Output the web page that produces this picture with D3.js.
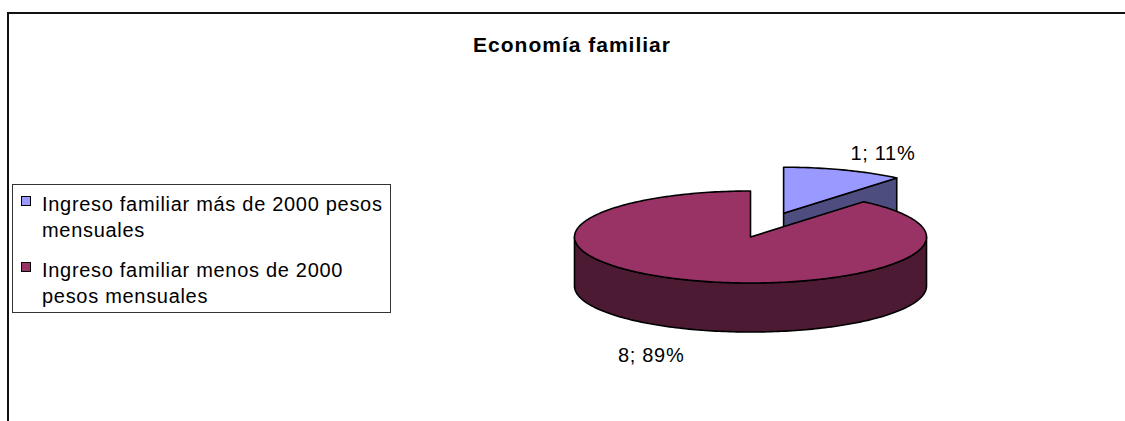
<!DOCTYPE html>
<html>
<head>
<meta charset="utf-8">
<script src="https://cdn.jsdelivr.net/npm/d3@7"></script>
<style>
  html, body { margin: 0; padding: 0; background: #fff; }
  svg { display: block; }
  text { font-family: "Liberation Sans", Arial, sans-serif; fill: #000; }
</style>
</head>
<body>
<svg id="chart" width="1125" height="421"></svg>
<script>
// ---- data ----
const title = "Economía familiar";
const categories = [
  "Ingreso familiar más de 2000 pesos mensuales",
  "Ingreso familiar menos de 2000 pesos mensuales"
];
const legendLines = [
  ["Ingreso familiar más de 2000 pesos", "mensuales"],
  ["Ingreso familiar menos de 2000", "pesos mensuales"]
];
const values = [1, 8];
const topColors = ["#9999ff", "#993366"];
const sideColors = ["#4d4d80", "#4d1a33"];
const exploded = [true, false];

// ---- layout ----
const W = 1125, H = 421;
const svg = d3.select("#chart");
const cx = 750.5, cy = 237, rx = 176, ry = 46, depth = 49;
const explodeK = 0.55;

// outer frame (cropped)
svg.append("rect").attr("x", 8).attr("y", 13).attr("width", W + 20).attr("height", H + 20)
  .attr("fill", "none").attr("stroke", "#111").attr("stroke-width", 2);

// title
svg.append("text").attr("x", 572).attr("y", 52).attr("text-anchor", "middle")
  .style("font-size", "21px").style("font-weight", "bold").style("letter-spacing", "1px")
  .text(title);

// pie
const total = d3.sum(values);
const pct = d3.format(".0%");
const arcs = d3.pie().sort(null).value(d => d)(values);
const sample = d3.scaleLinear().domain([0, 1]);

function pt(c, a, dz) { return [c[0] + rx * Math.sin(a), c[1] - ry * Math.cos(a) + (dz || 0)]; }
function arcPts(c, a0, a1, dz) {
  const n = Math.max(2, Math.ceil(Math.abs(a1 - a0) / 0.02));
  sample.range([a0, a1]);
  return d3.range(n + 1).map(i => pt(c, sample(i / n), dz));
}
const line = d3.line().curve(d3.curveLinear);

const slices = arcs.map((d, i) => {
  const mid = (d.startAngle + d.endAngle) / 2;
  let c = [cx, cy];
  if (exploded[i]) c = [cx + explodeK * rx * Math.sin(mid), cy - explodeK * ry * Math.cos(mid)];
  return { d, i, mid, c };
});
// back slices first
const order = slices.slice().sort((a, b) => (-Math.cos(a.mid)) - (-Math.cos(b.mid)));

const pieG = svg.append("g").attr("stroke", "#000").attr("stroke-width", 1.6).attr("stroke-linejoin", "round");

order.forEach(s => {
  const { d, i, c } = s;
  const a0 = d.startAngle, a1 = d.endAngle;
  const g = pieG.append("g");
  // radial faces
  const faces = [];
  if (Math.sin(a1) > 1e-6) faces.push(a1);
  if (Math.sin(a0) < -1e-6) faces.push(a0);
  faces.forEach(a => {
    const p = pt(c, a);
    g.append("path").attr("fill", sideColors[i])
      .attr("d", line([c, p, [p[0], p[1] + depth], [c[0], c[1] + depth]]) + "Z");
  });
  // outer wall: front half [PI/2, 3PI/2]
  const w0 = Math.max(a0, Math.PI / 2), w1 = Math.min(a1, 3 * Math.PI / 2);
  if (w1 > w0) {
    const topE = arcPts(c, w0, w1, 0);
    const botE = arcPts(c, w1, w0, depth);
    g.append("path").attr("fill", sideColors[i]).attr("d", line(topE.concat(botE)) + "Z");
  }
  // top face
  g.append("path").attr("fill", topColors[i])
    .attr("d", line([c].concat(arcPts(c, a0, a1, 0))) + "Z");
});

// data labels
const fx = 1.65, fy = 1.3;
slices.forEach(s => {
  const up = Math.cos(s.mid) > 0;
  const x = s.c[0] + fx * rx * Math.sin(s.mid);
  let y = s.c[1] - fy * ry * Math.cos(s.mid);
  if (!up) y += depth;
  svg.append("text").attr("x", x).attr("y", up ? y + 3 : y + 20)
    .attr("text-anchor", "middle")
    .style("font-size", "20px").style("letter-spacing", "0.7px")
    .text(values[s.i] + "; " + pct(values[s.i] / total));
});

// legend
const lg = svg.append("g");
lg.append("rect").attr("x", 12.5).attr("y", 184.5).attr("width", 378).attr("height", 128)
  .attr("fill", "#fff").attr("stroke", "#333").attr("stroke-width", 1);
categories.forEach((cat, i) => {
  const y0 = 211 + i * 66;
  lg.append("rect").attr("x", 21.5).attr("y", y0 - 14.5).attr("width", 9).attr("height", 9)
    .attr("fill", topColors[i]).attr("stroke", "#000").attr("stroke-width", 1);
  const t = lg.append("text").attr("x", 42).attr("y", y0)
    .style("font-size", "20px").style("letter-spacing", "0.7px");
  legendLines[i].forEach((ln, j) => {
    t.append("tspan").attr("x", 42).attr("y", y0 + j * 26).text(ln);
  });
});
</script>
</body>
</html>
